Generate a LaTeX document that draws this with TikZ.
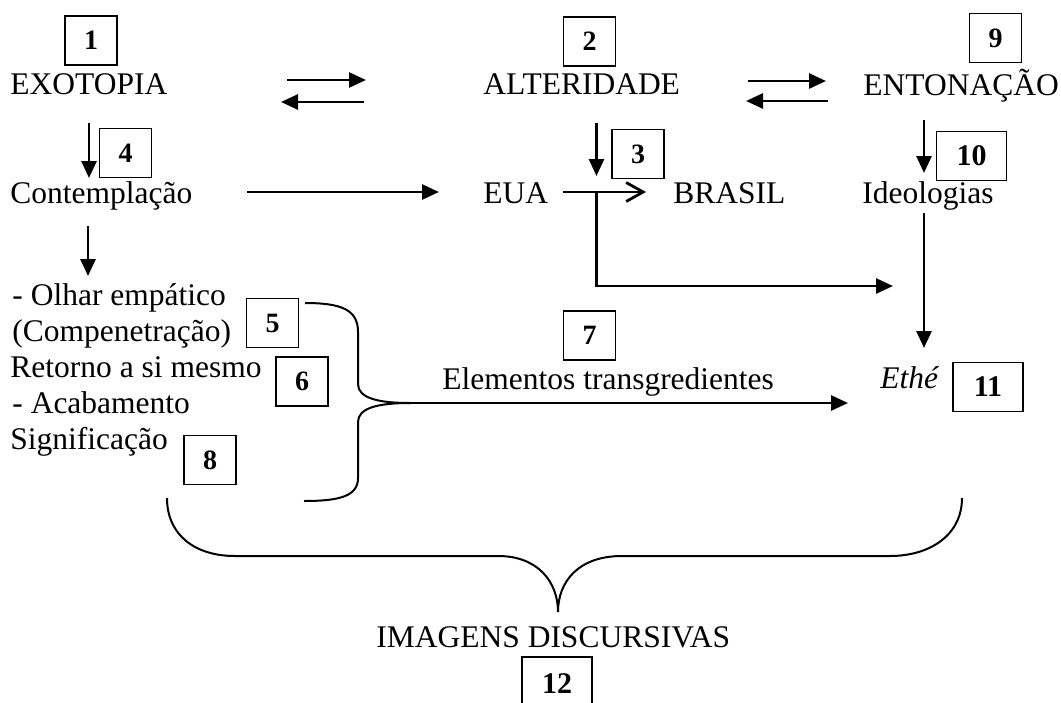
\documentclass[tikz,border=0pt]{standalone}
\usepackage{fontspec}
\setmainfont{Liberation Serif}
\usetikzlibrary{arrows.meta}

\begin{document}
\begin{tikzpicture}[x=0.5pt, y=-0.5pt,
  every node/.style={inner sep=0pt, font=\fontsize{15.75}{19}\selectfont},
  txt/.style={anchor=base west},
  numbox/.style={draw, line width=0.8pt, minimum width=26pt, minimum height=24.5pt,
    font=\fontsize{14}{16}\selectfont\bfseries},
  widebox/.style={numbox, minimum width=35pt, font=\fontsize{15}{17}\selectfont\bfseries},
  arr/.style={line width=1.4pt, -{Triangle[length=8.5pt,width=7.5pt]}},
  openarr/.style={line width=1.4pt, -{Straight Barb[length=8.5pt,width=9.5pt]}},
  brace/.style={line width=1pt}]
\useasboundingbox (0,0) rectangle (1061,702);

% Row 1 - concepts
\node[txt] (exo) at (10,94) {EXOTOPIA};
\node[numbox] (n1) at (91,40.5) {1};
\node[txt] (alt) at (483,94) {ALTERIDADE};
\node[numbox] (n2) at (589.5,41.5) {2};
\node[txt] (ent) at (863,95) {ENTONAÇÃO};
\node[numbox] (n9) at (995.5,38) {9};

% Row 2
\node[txt] (cont) at (10,203) {Contemplação};
\node[numbox] (n4) at (125.5,153) {4};
\node[txt] (eua) at (483,203) {EUA};
\node[txt] (bra) at (673,203) {BRASIL};
\node[numbox] (n3) at (638,154) {3};
\node[txt] (ideo) at (862,203) {Ideologias};
\node[widebox] (n10) at (971.5,156) {10};

% List under Contemplacao
\node[txt] (olhar) at (12,305) {- Olhar empático};
\node[txt] (comp) at (12,341) {(Compenetração)};
\node[numbox] (n5) at (272.5,323) {5};
\node[txt] (ret) at (10,377) {Retorno a si mesmo};
\node[numbox] (n6) at (302,381.5) {6};
\node[txt] (acab) at (12,413) {- Acabamento};
\node[txt] (sig) at (10,449) {Significação};
\node[numbox] (n8) at (210,460) {8};

% Middle and right
\node[txt] (elem) at (442,389) {Elementos transgredientes};
\node[numbox] (n7) at (589.5,335.5) {7};
\node[txt] (ethe) at (880,388) {\textit{Ethé}};
\node[widebox] (n11) at (988,387) {11};

% Bottom
\node[txt] (img) at (376,647) {IMAGENS DISCURSIVAS};
\node[widebox, minimum height=26.5pt] (n12) at (557,683.5) {12};

% Arrow ends
\coordinate (a1) at (287,80);  \coordinate (a2) at (366,80);
\coordinate (a3) at (364,102); \coordinate (a4) at (281,102);
\coordinate (a5) at (748,81);  \coordinate (a6) at (826,81);
\coordinate (a7) at (828,101); \coordinate (a8) at (746,101);
\coordinate (d1) at (89,123);  \coordinate (d2) at (89,178);
\coordinate (d3) at (596.5,123); \coordinate (d4) at (596.5,176);
\coordinate (d5) at (924,120); \coordinate (d6) at (924,173);
\coordinate (d7) at (88,226);  \coordinate (d8) at (88,276);
\coordinate (d9) at (924,213); \coordinate (d10) at (924,348);
\coordinate (h1) at (247,192); \coordinate (h2) at (439,192);
\coordinate (h3) at (563,192); \coordinate (h4) at (646,192);
\coordinate (fork) at (596.5,192); \coordinate (h5) at (893,286);
\coordinate (tip1) at (410,403); \coordinate (h6) at (848,403);
\coordinate (tip2) at (558,612);

% Arrows
\draw[arr] (a1) -- (a2);
\draw[arr] (a3) -- (a4);
\draw[arr] (a5) -- (a6);
\draw[arr] (a7) -- (a8);
\draw[arr] (d1) -- (d2);
\draw[arr] (d3) -- (d4);
\draw[arr] (d5) -- (d6);
\draw[arr] (d7) -- (d8);
\draw[arr] (d9) -- (d10);
\draw[arr] (h1) -- (h2);
\draw[openarr] (h3) -- (h4);
\draw[arr] (fork) |- (h5);
\draw[arr] (tip1) -- (h6);

% Braces
\draw[brace] (305,303) .. controls (342,303) and (358,310) .. (358,332) -- (358,384)
  .. controls (358,398) and (378,403) .. (tip1);
\draw[brace] (tip1) .. controls (378,403) and (358,408) .. (358,422) -- (358,478)
  .. controls (358,496) and (340,501) .. (304,501);
\draw[brace] (167,498) .. controls (167,535) and (195,556) .. (235,556) -- (498,556)
  .. controls (538,556) and (558,582) .. (tip2);
\draw[brace] (962,498) .. controls (962,535) and (930,556) .. (890,556) -- (622,556)
  .. controls (578,556) and (558,582) .. (tip2);
\end{tikzpicture}
\end{document}
